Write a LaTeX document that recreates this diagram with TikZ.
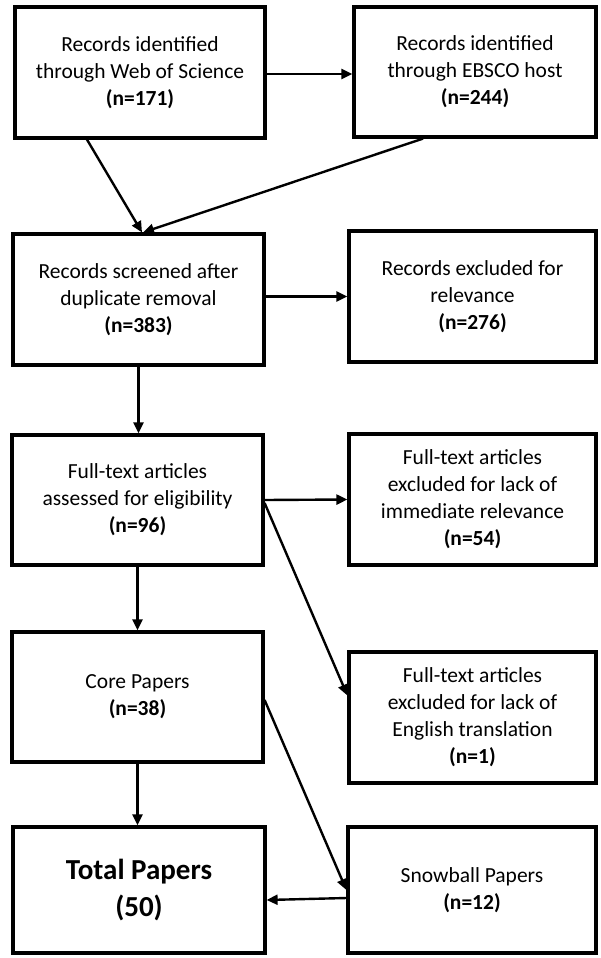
\documentclass[tikz,border=0pt]{standalone}
\usepackage{fontspec}
\setmainfont{Carlito}
\usetikzlibrary{arrows.meta}

\begin{document}
\begin{tikzpicture}[x=1pt,y=-1pt,
    box/.style={draw, line width=3.2pt, align=center, inner sep=0pt,
      font=\fontsize{21.5}{27}\selectfont},
    arr/.style={line width=2.4pt, -{Triangle[length=11pt,width=10pt]}}]
    \useasboundingbox (0,0) rectangle (600,958);
    \node[box, minimum width=250pt, minimum height=131pt] (wos) at (140,72.5)
      {Records identified\\through Web of Science\\\textbf{(n=171)}};
    \node[box, minimum width=242pt, minimum height=130pt] (ebsco) at (475,72)
      {Records identified\\through EBSCO host\\\textbf{(n=244)}};
    \node[box, minimum width=251pt, minimum height=131pt] (screen) at (138.5,299.5)
      {Records screened after\\duplicate removal\\\textbf{(n=383)}};
    \node[box, minimum width=247pt, minimum height=131pt] (exrel) at (472.5,296.5)
      {Records excluded for\\relevance\\\textbf{(n=276)}};
    \node[box, minimum width=251pt, minimum height=130pt] (elig) at (137.5,500)
      {Full-text articles\\assessed for eligibility\\\textbf{(n=96)}};
    \node[box, minimum width=247pt, minimum height=131pt] (eximm) at (472.5,499.5)
      {Full-text articles\\excluded for lack of\\immediate relevance\\\textbf{(n=54)}};
    \node[box, minimum width=251pt, minimum height=130pt] (core) at (137.5,697)
      {Core Papers\\\textbf{(n=38)}};
    \node[box, minimum width=247pt, minimum height=131pt] (exeng) at (472.5,717.5)
      {Full-text articles\\excluded for lack of\\English translation\\\textbf{(n=1)}};
    \node[box, minimum width=252pt, minimum height=126pt,
      font=\fontsize{29}{37}\selectfont\bfseries] (total) at (139,890)
      {Total Papers\\(50)};
    \node[box, minimum width=248pt, minimum height=126pt] (snow) at (472,890)
      {Snowball Papers\\\textbf{(n=12)}};
    \draw[arr] (wos.east |- 0,74) -- (ebsco.west |- 0,74);
    \draw[arr] ([xshift=-53pt]wos.south) -- ([xshift=3.5pt]screen.north);
    \draw[arr] ([xshift=-52pt]ebsco.south) -- ([xshift=4.5pt]screen.north);
    \draw[arr] (screen.east |- exrel.west) -- (exrel.west);
    \draw[arr] (screen.south) -- (screen.south |- elig.north);
    \draw[arr] (elig.east) -- (eximm.west);
    \draw[arr] ([yshift=-3pt]elig.east) -- ([yshift=22pt]exeng.west);
    \draw[arr] (elig.south) -- (core.north);
    \draw[arr] (core.south) -- (core.south |- total.north);
    \draw[arr] ([yshift=-3pt]core.east) -- (snow.west);
    \draw[arr] ([yshift=-8pt]snow.west) -- ([yshift=-10pt]total.east);
\end{tikzpicture}
\end{document}
